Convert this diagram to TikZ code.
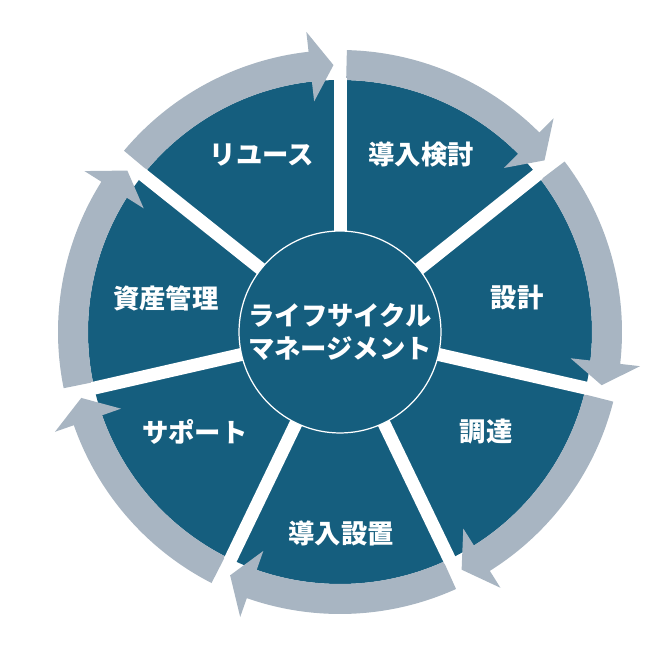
\documentclass[tikz,border=0pt]{standalone}
\usepackage{fontspec}
\setmainfont{Noto Sans CJK JP}
\definecolor{cycleblue}{HTML}{155E7E}
\definecolor{ringgray}{HTML}{A8B5C2}
\tikzset{
  ringarrow/.style={fill=ringgray},
  gapline/.style={white, line width=7.4pt},
  stagetext/.style={text=white, font=\bfseries\fontsize{15}{18}\selectfont},
  hub/.style={circle, draw=white, line width=0.7pt, fill=cycleblue, minimum size=4.04cm, inner sep=0pt, align=center, text=white, font=\bfseries\fontsize{15}{18.5}\selectfont}
}
\begin{document}
\begin{tikzpicture}[x=0.02cm, y=0.02cm]
        \useasboundingbox (-340,-339) rectangle (332,332);
        \fill[cycleblue] (0,0) circle[radius=252];
        % arrows round the ring, clockwise
        \fill[ringarrow] (88.6:282) arc[start angle=88.6, end angle=45, radius=282] -- (45:302) -- (40:267) -- (45:232) -- (45:252) arc[start angle=45, end angle=88.6, radius=252] -- cycle;
        \fill[ringarrow] (37.2:282) arc[start angle=37.2, end angle=-6.5, radius=282] -- (-6.5:302) -- (-11.5:267) -- (-6.5:232) -- (-6.5:252) arc[start angle=-6.5, end angle=37.2, radius=252] -- cycle;
        \fill[ringarrow] (-14.3:282) arc[start angle=-14.3, end angle=-57.9, radius=282] -- (-57.9:302) -- (-62.9:267) -- (-57.9:232) -- (-57.9:252) arc[start angle=-57.9, end angle=-14.3, radius=252] -- cycle;
        \fill[ringarrow] (-65.7:282) arc[start angle=-65.7, end angle=-109.3, radius=282] -- (-109.3:302) -- (-114.3:267) -- (-109.3:232) -- (-109.3:252) arc[start angle=-109.3, end angle=-65.7, radius=252] -- cycle;
        \fill[ringarrow] (-117.1:282) arc[start angle=-117.1, end angle=-160.7, radius=282] -- (-160.7:302) -- (-165.7:267) -- (-160.7:232) -- (-160.7:252) arc[start angle=-160.7, end angle=-117.1, radius=252] -- cycle;
        \fill[ringarrow] (-168.5:282) arc[start angle=-168.5, end angle=-212.2, radius=282] -- (-212.2:302) -- (-217.2:267) -- (-212.2:232) -- (-212.2:252) arc[start angle=-212.2, end angle=-168.5, radius=252] -- cycle;
        \fill[ringarrow] (140:282) arc[start angle=140, end angle=96.4, radius=282] -- (96.4:302) -- (91.4:267) -- (96.4:232) -- (96.4:252) arc[start angle=96.4, end angle=140, radius=252] -- cycle;
        % white gaps between the stages
        \draw[gapline] (0,0) -- (90:254);
        \draw[gapline] (0,0) -- (38.57:254);
        \draw[gapline] (0,0) -- (-12.86:254);
        \draw[gapline] (0,0) -- (-64.29:254);
        \draw[gapline] (0,0) -- (-115.71:254);
        \draw[gapline] (0,0) -- (-167.14:254);
        \draw[gapline] (0,0) -- (141.43:254);
        \node[hub] (lcm) at (0,0) {ライフサイクル\\マネージメント};
        \node[stagetext] (study) at (81,177) {導入検討};
        \node[stagetext] (design) at (177,34) {設計};
        \node[stagetext] (procure) at (146,-100) {調達};
        \node[stagetext] (install) at (1,-201) {導入設置};
        \node[stagetext] (support) at (-145,-100) {サポート};
        \node[stagetext] (assets) at (-174,34) {資産管理};
        \node[stagetext] (reuse) at (-78,177) {リユース};
    \end{tikzpicture}
\end{document}
